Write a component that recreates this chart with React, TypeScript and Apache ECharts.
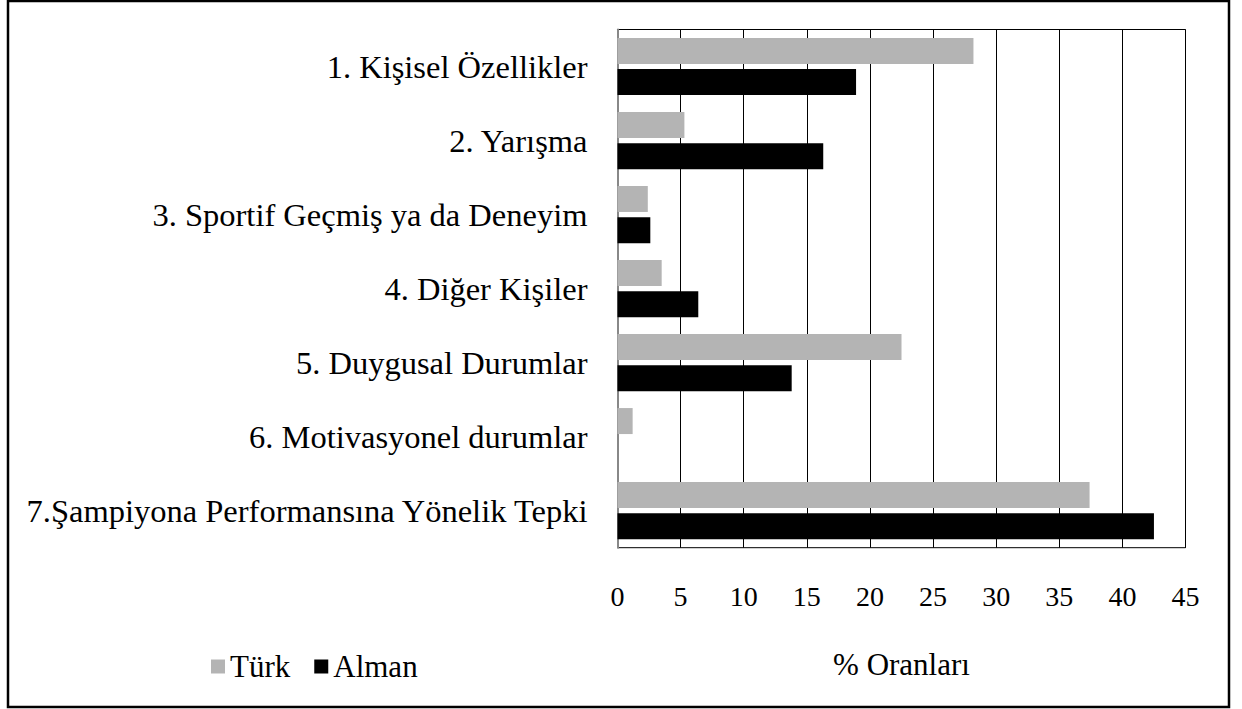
import React, { useEffect, useRef } from "react";
import * as echarts from "echarts";

const categories = [
  "1. Kişisel Özellikler",
  "2. Yarışma",
  "3. Sportif Geçmiş ya da Deneyim",
  "4. Diğer Kişiler",
  "5. Duygusal Durumlar",
  "6. Motivasyonel durumlar",
  "7.Şampiyona Performansına Yönelik Tepki",
];
const turk = [28.2, 5.3, 2.4, 3.5, 22.5, 1.2, 37.4];
const alman = [18.9, 16.3, 2.6, 6.4, 13.8, 0, 42.5];
const seriesNames = ["Türk", "Alman"];
const axisName = "% Oranları";

const FONT = "Times New Roman, serif";

export default function App() {
  const ref = useRef<HTMLDivElement>(null);
  useEffect(() => {
    if (!ref.current) return;
    const chart = echarts.init(ref.current, null, { renderer: "svg" });
    chart.setOption({
      animation: false,
      backgroundColor: "#fff",
      textStyle: { fontFamily: FONT, color: "#000" },
      legend: {
        data: seriesNames,
        left: 206,
        top: 646,
        icon: "rect",
        itemWidth: 14,
        itemHeight: 14,
        itemGap: 24,
        textStyle: {
          fontFamily: FONT,
          fontSize: 31,
          color: "#000",
        },
      },
      graphic: [
        {
          type: "rect",
          shape: { x: 8, y: 1, width: 1221, height: 706 },
          style: { fill: "none", stroke: "#000", lineWidth: 2.5 },
          z: 100,
        },
      ],
      grid: {
        left: 617.5,
        right: 56.5,
        top: 29.5,
        bottom: 161.3,
        show: true,
        borderColor: "#000",
        borderWidth: 1,
        backgroundColor: "transparent",
      },
      xAxis: {
        type: "value",
        min: 0,
        max: 45,
        interval: 5,
        name: axisName,
        nameLocation: "middle",
        nameGap: 101,
        nameTextStyle: { fontFamily: FONT, fontSize: 31, color: "#000" },
        axisLine: { show: false },
        axisTick: { show: false },
        axisLabel: { fontFamily: FONT, fontSize: 28, color: "#000", margin: 35 },
        splitLine: { show: true, lineStyle: { color: "#000", width: 1 } },
      },
      yAxis: {
        type: "category",
        data: categories,
        inverse: true,
        axisLine: { show: true, lineStyle: { color: "#888", width: 2 } },
        axisTick: { show: false },
        axisLabel: { fontFamily: FONT, fontSize: 32.5, color: "#000", margin: 30 },
        splitLine: { show: false },
      },
      series: [
        {
          name: seriesNames[0],
          type: "bar",
          data: turk,
          barWidth: 26,
          barGap: "20%",
          itemStyle: { color: "#b4b4b4" },
        },
        {
          name: seriesNames[1],
          type: "bar",
          data: alman,
          barWidth: 26,
          itemStyle: { color: "#000" },
        },
      ],
    });
    return () => chart.dispose();
  }, []);
  return (
    <div
      ref={ref}
      style={{ position: "fixed", left: 0, top: 0, width: 1242, height: 709 }}
    />
  );
}
